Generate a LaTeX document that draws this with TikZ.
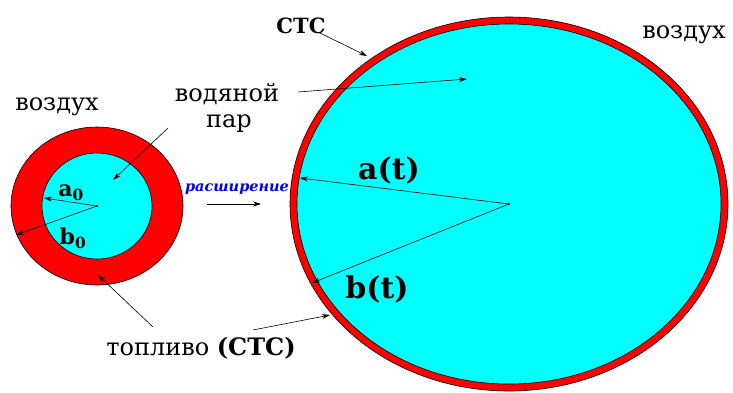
\documentclass[tikz,border=0pt]{standalone}
\usepackage{fontspec}
\setmainfont{DejaVu Serif}
\usepackage{tikz}
\usetikzlibrary{arrows.meta}
\definecolor{gas}{RGB}{0,255,255}
\definecolor{fuel}{RGB}{255,0,0}
\definecolor{word}{RGB}{0,0,255}
\tikzset{
  txt/.style={inner sep=0pt,anchor=base,font=\fontsize{24}{26}\selectfont},
  bold/.style={inner sep=0pt,anchor=base,font=\bfseries\fontsize{#1}{#1}\selectfont},
  ptr/.style={->,line width=0.6pt}
}

\begin{document}
\begin{tikzpicture}[x=1pt,y=-1pt,>={Stealth[length=8pt,width=5pt]}]
\useasboundingbox (0,0) rectangle (733,392);
% small drop
\filldraw[fill=fuel,line width=0.6pt] (97,206) ellipse [x radius=86,y radius=79];
\filldraw[fill=gas,line width=0.6pt] (97,206) ellipse [x radius=55,y radius=53];
% large drop
\filldraw[fill=fuel,line width=0.6pt] (509,204) ellipse [x radius=219,y radius=187];
\filldraw[fill=gas,line width=0.6pt] (509,204) ellipse [x radius=212,y radius=180];
\coordinate (c0) at (97,206);
\coordinate (c1) at (509,204);
\fill (c0) circle (1.2);
\fill (c1) circle (1.2);
\coordinate (a0end) at (44,198);
\coordinate (b0end) at (16,235);
\coordinate (atend) at (300,178);
\coordinate (btend) at (312,283);
\coordinate (vapin0) at (113,180);
\coordinate (vapin1) at (467,79);
\coordinate (ring0) at (98,275);
\coordinate (ring1) at (330,315);
\coordinate (stcring) at (367,56);
\coordinate (expA) at (207,204);
\coordinate (expB) at (261,204);

\node[txt] (air0) at (57,110) {воздух};
\node[txt] (air1) at (684,38) {воздух};
\node[txt] (vap) at (227,101) {водяной};
\node[txt] (par) at (229,127) {пар};
\node[bold=21] (stc) at (301,33) {СТС};
\node[inner sep=0pt,anchor=base,text=word,font=\bfseries\itshape\fontsize{14.5}{15}\selectfont] (exp) at (237,191) {расширение};
\node[bold=22] (la0) at (71,196) {a\textsubscript{0}};
\node[bold=22] (lb0) at (73,244) {b\textsubscript{0}};
\node[bold=30] (lat) at (389,179) {a(t)};
\node[bold=30] (lbt) at (377,298) {b(t)};
\node[txt] (fuelname) at (201,355) {топливо \textbf{(СТС)}};

\draw[ptr] (c0) -- (a0end);
\draw[ptr] (c0) -- (b0end);
\draw[ptr] (c1) -- (atend);
\draw[ptr] (c1) -- (btend);
\draw[ptr] (168,128) -- (vapin0);
\draw[ptr] (298,92) -- (vapin1);
\draw[ptr] (153,327) -- (ring0);
\draw[ptr] (253,330) -- (ring1);
\draw[ptr] (320,33) -- (stcring);
\draw[ptr] (expA) -- (expB);
\end{tikzpicture}
\end{document}
